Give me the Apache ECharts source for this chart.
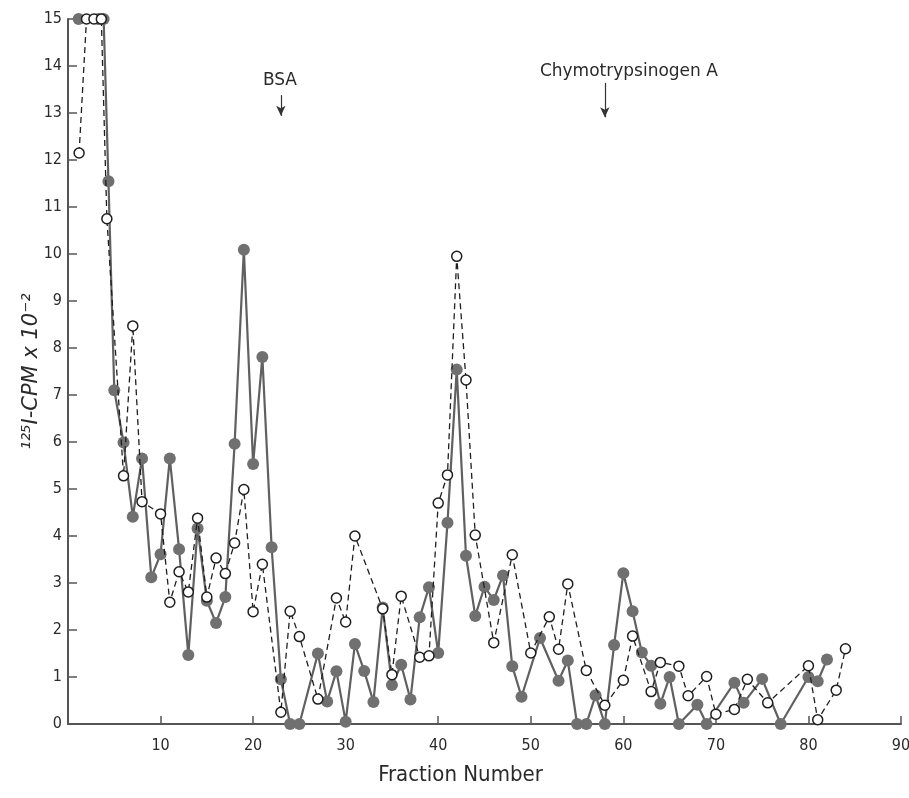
<!DOCTYPE html>
<html>
<head>
<meta charset="utf-8">
<title>125I-CPM by fraction</title>
<script src="https://cdn.jsdelivr.net/npm/echarts@6/dist/echarts.min.js"></script>
<style>
  html, body { margin: 0; padding: 0; background: #fff; }
  #chart { width: 909px; height: 798px; }
</style>
</head>
<body>
<div id="chart"></div>
<script>
// filled circles, solid line (values above 15 drawn at 15, as in the original)
const fracFilled = [1.15, 3.3, 3.85, 4.37, 5, 6, 7, 8, 9, 10, 11, 12, 13, 14, 15, 16, 17, 18, 19, 20, 21, 22, 23, 24, 25, 27, 28, 29, 30, 31, 32, 33, 34, 35, 36, 37, 38, 39, 40, 41, 42, 43, 44, 45, 46, 47, 48, 49, 51, 53, 54, 55, 56, 57, 58, 59, 60, 61, 62, 63, 64, 65, 66, 68, 69, 72, 73, 75, 77, 80, 81, 82]
const cpmFilled = [15, 15, 15, 11.55, 7.1, 5.99, 4.41, 5.65, 3.12, 3.61, 5.65, 3.72, 1.47, 4.16, 2.62, 2.15, 2.7, 5.96, 10.09, 5.53, 7.81, 3.76, 0.95, 0, 0, 1.5, 0.48, 1.12, 0.05, 1.7, 1.13, 0.47, 2.48, 0.83, 1.26, 0.52, 2.27, 2.91, 1.51, 4.28, 7.54, 3.58, 2.3, 2.92, 2.64, 3.16, 1.23, 0.58, 1.83, 0.92, 1.35, 0, 0, 0.61, 0, 1.68, 3.21, 2.4, 1.52, 1.24, 0.43, 1.0, 0, 0.41, 0, 0.88, 0.45, 0.96, 0, 1.0, 0.91, 1.37]

// open circles, dashed line
const fracOpen = [1.2, 2.0, 2.8, 3.6, 4.2, 6, 7, 8, 10, 11, 12, 13, 14, 15, 16, 17, 18, 19, 20, 21, 23, 24, 25, 27, 29, 30, 31, 34, 35, 36, 38, 39, 40, 41, 42, 43, 44, 46, 48, 50, 52, 53, 54, 56, 58, 60, 61, 63, 64, 66, 67, 69, 70, 72, 73.4, 75.6, 80, 81, 83, 84]
const cpmOpen = [12.15, 15, 15, 15, 10.75, 5.28, 8.47, 4.73, 4.47, 2.59, 3.24, 2.81, 4.38, 2.7, 3.53, 3.2, 3.85, 4.99, 2.39, 3.4, 0.25, 2.4, 1.86, 0.53, 2.68, 2.17, 4.0, 2.45, 1.05, 2.72, 1.42, 1.45, 4.7, 5.3, 9.95, 7.32, 4.02, 1.73, 3.6, 1.51, 2.28, 1.59, 2.98, 1.14, 0.4, 0.93, 1.87, 0.69, 1.31, 1.23, 0.6, 1.01, 0.21, 0.31, 0.95, 0.45, 1.24, 0.09, 0.72, 1.6]

const xTicks = [10, 20, 30, 40, 50, 60, 70, 80, 90]
const yTicks = [0, 1, 2, 3, 4, 5, 6, 7, 8, 9, 10, 11, 12, 13, 14, 15]

// markers: name, fraction
const markerNames = ['BSA', 'Chymotrypsinogen A']
const markerFrac = [23, 58]

const font = 'DejaVu Sans Condensed'
const ink = '#2a2a2a'

const chart = echarts.init(document.getElementById('chart'))

const filledData = fracFilled.map((x, i) => [x, cpmFilled[i]])
const openData = fracOpen.map((x, i) => [x, cpmOpen[i]])

chart.setOption({
  animation: false,
  backgroundColor: '#fff',
  grid: {
    left: 68,
    right: 8,
    top: 19,
    bottom: 74,
    containLabel: false,
    outerBoundsMode: 'none'
  },
  xAxis: {
    type: 'value',
    min: 0,
    max: 90,
    interval: 10,
    name: 'Fraction Number',
    nameLocation: 'middle',
    nameGap: 40,
    nameMoveOverlap: false,
    nameTextStyle: {
      fontFamily: font,
      fontSize: 22,
      color: ink,
      padding: [0, 48, 0, 0]
    },
    axisLine: { lineStyle: { color: '#555', width: 2 } },
    axisTick: { inside: true, length: 8, lineStyle: { color: '#555', width: 1.5 } },
    axisLabel: {
      fontFamily: font,
      fontSize: 16,
      color: ink,
      margin: 14,
      formatter: (v) => (xTicks.includes(v) ? String(v) : '')
    },
    splitLine: { show: false }
  },
  yAxis: {
    type: 'value',
    min: 0,
    max: 15,
    interval: 1,
    name: '¹²⁵I-CPM x 10⁻²',
    nameLocation: 'middle',
    nameGap: 26,
    nameMoveOverlap: false,
    nameTextStyle: {
      fontFamily: 'DejaVu Sans',
      fontStyle: 'italic',
      fontSize: 21,
      color: ink
    },
    axisLine: { show: true, lineStyle: { color: '#555', width: 2 } },
    axisTick: { show: true, inside: true, length: 9, lineStyle: { color: '#555', width: 1.5 } },
    axisLabel: {
      fontFamily: font,
      fontSize: 16,
      color: ink,
      margin: 6,
      formatter: (v) => (yTicks.includes(v) ? String(v) : '')
    },
    splitLine: { show: false }
  },
  series: [
    {
      name: 'filled',
      type: 'line',
      data: filledData,
      symbol: 'circle',
      symbolSize: 12,
      itemStyle: { color: '#707070' },
      lineStyle: { color: '#606060', width: 2.2 },
      z: 2,
      markLine: {
        silent: true,
        symbol: ['none', 'arrow'],
        symbolSize: [7, 10],
        label: { show: false },
        lineStyle: { color: '#333', width: 1.2, type: 'solid' },
        data: [
          [{ coord: [markerFrac[0], 13.38] }, { coord: [markerFrac[0], 12.94] }],
          [{ coord: [markerFrac[1], 13.64] }, { coord: [markerFrac[1], 12.91] }]
        ]
      },
      markPoint: {
        silent: true,
        symbol: 'circle',
        symbolSize: 0,
        label: {
          show: true,
          position: 'inside',
          fontFamily: 'DejaVu Sans',
          fontSize: 17,
          color: ink,
          formatter: (p) => p.name
        },
        data: [
          { name: markerNames[0], coord: [22.9, 13.7] },
          { name: markerNames[1], coord: [60.6, 13.89] }
        ]
      }
    },
    {
      name: 'open',
      type: 'line',
      data: openData,
      symbol: 'circle',
      symbolSize: 10,
      itemStyle: { color: '#fff', borderColor: '#1e1e1e', borderWidth: 1.5 },
      lineStyle: { color: '#1e1e1e', width: 1.3, type: [6, 4] },
      z: 3
    }
  ]
})
</script>
</body>
</html>
